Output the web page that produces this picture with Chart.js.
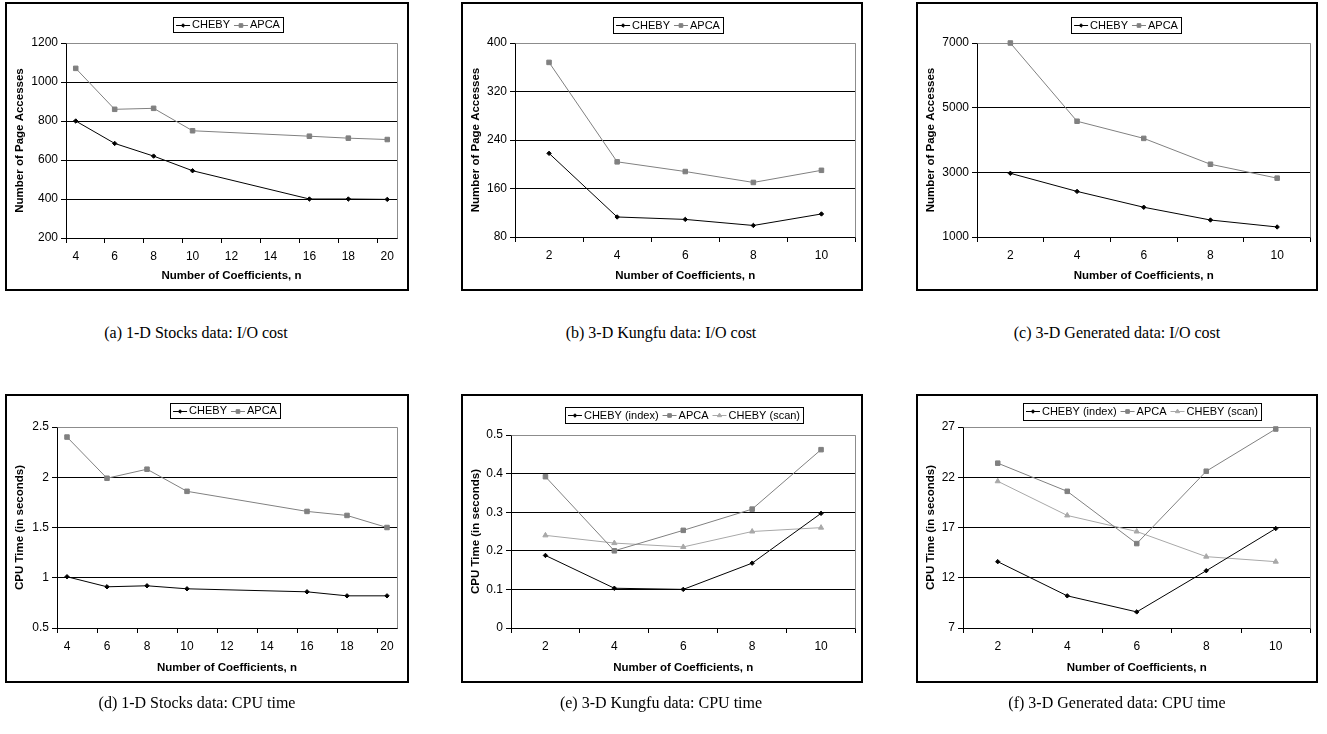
<!DOCTYPE html>
<html><head><meta charset="utf-8">
<script src="https://cdn.jsdelivr.net/npm/chart.js@4.4.1/dist/chart.umd.min.js"></script>
<style>
html,body{margin:0;padding:0;background:#fff;}
#page{position:relative;width:1327px;height:734px;overflow:hidden;background:#fff;}
.panel{position:absolute;}
.panel canvas{position:absolute;left:0;top:0;}
.frame{position:absolute;left:-1px;top:-1px;right:-1px;bottom:-1px;border:2px solid #000;pointer-events:none;}
.cap{position:absolute;width:420px;margin-left:-210px;text-align:center;font-family:"Liberation Serif","Times New Roman",serif;font-size:16px;line-height:20px;color:#000;white-space:nowrap;}
</style></head>
<body><div id="page"></div>
<script>
// ---------------- data ----------------
const nStocks = [4, 6, 8, 10, 16, 18, 20];
const n3D = [2, 4, 6, 8, 10];
const xTicksStocks = [4, 6, 8, 10, 12, 14, 16, 18, 20];
const xTicks3D = [2, 4, 6, 8, 10];

const chebyIoStocks = [800, 685, 620, 545, 400, 400, 398];
const apcaIoStocks = [1070, 860, 865, 750, 722, 712, 705];
const yTicksIoStocks = [200, 400, 600, 800, 1000, 1200];

const chebyIoKungfu = [218, 113, 109, 99, 118];
const apcaIoKungfu = [368, 204, 188, 170, 190];
const yTicksIoKungfu = [80, 160, 240, 320, 400];

const chebyIoGen = [2970, 2410, 1920, 1525, 1310];
const apcaIoGen = [7000, 4580, 4050, 3250, 2820];
const yTicksIoGen = [1000, 3000, 5000, 7000];

const chebyCpuStocks = [1.01, 0.91, 0.92, 0.89, 0.86, 0.82, 0.82];
const apcaCpuStocks = [2.40, 1.99, 2.08, 1.86, 1.66, 1.62, 1.50];
const yTicksCpuStocks = [0.5, 1, 1.5, 2, 2.5];

const chebyIndexCpuKungfu = [0.188, 0.103, 0.100, 0.168, 0.297];
const apcaCpuKungfu = [0.392, 0.200, 0.253, 0.308, 0.462];
const chebyScanCpuKungfu = [0.240, 0.220, 0.210, 0.250, 0.260];
const yTicksCpuKungfu = [0, 0.1, 0.2, 0.3, 0.4, 0.5];

const chebyIndexCpuGen = [13.6, 10.2, 8.6, 12.7, 16.9];
const apcaCpuGen = [23.4, 20.6, 15.4, 22.6, 26.8];
const chebyScanCpuGen = [21.6, 18.2, 16.6, 14.1, 13.6];
const yTicksCpuGen = [7, 12, 17, 22, 27];

const titleIo = 'Number of Page Accesses';
const titleCpu = 'CPU Time (in seconds)';
const titleX = 'Number of Coefficients, n';

// ---------------- styles ----------------
const FAMILY = "'Liberation Sans', Arial, sans-serif";
const tickFont = {family: FAMILY, size: 12, lineHeight: 1.2};
const axisTitleFont = {family: FAMILY, size: 11.5, weight: 'bold', lineHeight: 1.2};
const legendFont = "11px 'Liberation Sans', Arial, sans-serif";

const sCheby = {borderColor: '#000000', pointStyle: 'rectRot', pointRadius: 2.2};
const sApca = {borderColor: '#808080', pointStyle: 'rect', pointRadius: 3.2};
const sScan = {borderColor: '#a8a8a8', pointStyle: 'triangle', pointRadius: 3};

function series(label, xs, ys, st) {
  return {
    label,
    data: xs.map((x, i) => ({x, y: ys[i]})),
    borderColor: st.borderColor, backgroundColor: st.borderColor,
    pointBackgroundColor: st.borderColor, pointBorderColor: st.borderColor,
    pointStyle: st.pointStyle, pointRadius: st.pointRadius, pointHoverRadius: st.pointRadius,
    pointBorderWidth: 1, borderWidth: 1, tension: 0, clip: false
  };
}

function drawMarker(ctx, style, r, x, y) {
  ctx.beginPath();
  if (style === 'rect') {
    const s = r * Math.SQRT1_2;
    ctx.rect(x - s, y - s, 2 * s, 2 * s);
  } else if (style === 'rectRot') {
    ctx.moveTo(x, y - r); ctx.lineTo(x + r, y); ctx.lineTo(x, y + r); ctx.lineTo(x - r, y); ctx.closePath();
  } else {
    const w = r * Math.sqrt(3) / 2;
    ctx.moveTo(x, y - r); ctx.lineTo(x + w, y + r / 2); ctx.lineTo(x - w, y + r / 2); ctx.closePath();
  }
  ctx.fill(); ctx.stroke();
}

const boxedLegend = {
  id: 'boxedLegend',
  afterDraw(chart, args, o) {
    const ctx = chart.ctx;
    ctx.save();
    ctx.font = legendFont;
    const sw = 14, gapT = 2, gapI = 4, padX = 3, h = o.h;
    const items = chart.data.datasets.map(ds => ({ds, tw: ctx.measureText(ds.label).width}));
    const total = padX * 2 + items.reduce((s, it) => s + sw + gapT + it.tw, 0) + gapI * (items.length - 1);
    const x0 = o.cx - total / 2;
    const yc = Math.round(o.cy) + 0.5;
    ctx.strokeStyle = '#000'; ctx.lineWidth = 1;
    ctx.strokeRect(Math.round(x0) + 0.5, Math.round(o.cy - h / 2) + 0.5, Math.round(total), Math.round(h));
    let cx = x0 + padX;
    items.forEach(it => {
      const ds = it.ds;
      ctx.strokeStyle = ds.borderColor; ctx.fillStyle = ds.borderColor; ctx.lineWidth = 1;
      ctx.beginPath(); ctx.moveTo(cx, yc); ctx.lineTo(cx + sw, yc); ctx.stroke();
      drawMarker(ctx, ds.pointStyle, ds.pointRadius * 0.8, cx + sw / 2, yc);
      cx += sw + gapT;
      ctx.fillStyle = '#000'; ctx.textBaseline = 'middle'; ctx.textAlign = 'left';
      ctx.fillText(ds.label, cx, o.cy + 0.5);
      cx += it.tw + gapI;
    });
    ctx.restore();
  }
};

const plotFrame = {
  id: 'plotFrame',
  beforeDatasetsDraw(chart) {
    const {ctx, chartArea: a} = chart;
    const al = v => Math.round(v - 0.5) + 0.5;
    ctx.save();
    ctx.strokeStyle = '#8c8c8c'; ctx.lineWidth = 1;
    ctx.beginPath();
    ctx.moveTo(al(a.left), al(a.top)); ctx.lineTo(al(a.right), al(a.top)); ctx.lineTo(al(a.right), al(a.bottom));
    ctx.stroke();
    ctx.restore();
  }
};

// ---------------- panels (layout) ----------------
const panels = [
  {box: [6, 3, 402, 287], plot: {left: 60, top: 40, right: 11, bottom: 52}, legend: {cx: 222, cy: 21.5, h: 15},
   x: {min: 3.5, catW: 1, nCats: 17, markEvery: 2, labels: xTicksStocks}, yTicks: yTicksIoStocks, yTitle: titleIo,
   datasets: [series('CHEBY', nStocks, chebyIoStocks, sCheby), series('APCA', nStocks, apcaIoStocks, sApca)],
   caption: '(a) 1-D Stocks data: I/O cost', capX: 196, capY: 333},
  {box: [462, 3, 400, 287], plot: {left: 53, top: 40, right: 2, bottom: 53}, legend: {cx: 206, cy: 22, h: 16},
   x: {min: 1, catW: 2, nCats: 5, markEvery: 1, labels: xTicks3D}, yTicks: yTicksIoKungfu, yTitle: titleIo,
   datasets: [series('CHEBY', n3D, chebyIoKungfu, sCheby), series('APCA', n3D, apcaIoKungfu, sApca)],
   caption: '(b) 3-D Kungfu data: I/O cost', capX: 661, capY: 333},
  {box: [917, 3, 400, 287], plot: {left: 60, top: 40, right: 2, bottom: 53}, legend: {cx: 209, cy: 22, h: 16},
   x: {min: 1, catW: 2, nCats: 5, markEvery: 1, labels: xTicks3D}, yTicks: yTicksIoGen, yTitle: titleIo,
   datasets: [series('CHEBY', n3D, chebyIoGen, sCheby), series('APCA', n3D, apcaIoGen, sApca)],
   caption: '(c) 3-D Generated data: I/O cost', capX: 1117, capY: 333},
  {box: [6, 395, 402, 287], plot: {left: 51, top: 32, right: 11, bottom: 54}, legend: {cx: 219, cy: 15.5, h: 15},
   x: {min: 3.5, catW: 1, nCats: 17, markEvery: 2, labels: xTicksStocks}, yTicks: yTicksCpuStocks, yTitle: titleCpu,
   datasets: [series('CHEBY', nStocks, chebyCpuStocks, sCheby), series('APCA', nStocks, apcaCpuStocks, sApca)],
   caption: '(d) 1-D Stocks data: CPU time', capX: 197, capY: 703},
  {box: [462, 395, 400, 287], plot: {left: 49, top: 40, right: 2, bottom: 54}, legend: {cx: 222, cy: 20, h: 16},
   x: {min: 1, catW: 2, nCats: 5, markEvery: 1, labels: xTicks3D}, yTicks: yTicksCpuKungfu, yTitle: titleCpu,
   datasets: [series('CHEBY (index)', n3D, chebyIndexCpuKungfu, sCheby), series('APCA', n3D, apcaCpuKungfu, sApca),
              series('CHEBY (scan)', n3D, chebyScanCpuKungfu, sScan)],
   caption: '(e) 3-D Kungfu data: CPU time', capX: 661, capY: 703},
  {box: [917, 395, 400, 287], plot: {left: 46, top: 32, right: 2, bottom: 54}, legend: {cx: 225, cy: 16, h: 17},
   x: {min: 1, catW: 2, nCats: 5, markEvery: 1, labels: xTicks3D}, yTicks: yTicksCpuGen, yTitle: titleCpu,
   datasets: [series('CHEBY (index)', n3D, chebyIndexCpuGen, sCheby), series('APCA', n3D, apcaCpuGen, sApca),
              series('CHEBY (scan)', n3D, chebyScanCpuGen, sScan)],
   caption: '(f) 3-D Generated data: CPU time', capX: 1117, capY: 703}
];

function xAxis(p) {
  const lab = new Set(p.x.labels);
  const marks = [];
  for (let i = 0; i <= p.x.nCats; i++) if (i % p.x.markEvery === 0) marks.push(+(p.x.min + i * p.x.catW).toFixed(4));
  const all = [...new Set([...marks, ...p.x.labels])].sort((a, b) => a - b);
  return {
    type: 'linear', min: p.x.min, max: p.x.min + p.x.nCats * p.x.catW,
    afterBuildTicks: s => { s.ticks = all.map(v => ({value: v})); },
    afterFit: s => { s.height = p.plot.bottom; },
    ticks: {autoSkip: false, maxRotation: 0, minRotation: 0, padding: 6.5, font: tickFont, color: '#000',
            callback: v => lab.has(v) ? String(v) : ''},
    grid: {drawOnChartArea: false, drawTicks: true, tickLength: 5, tickWidth: 1,
           tickColor: c => (c.tick && lab.has(c.tick.value)) ? 'rgba(0,0,0,0)' : '#000'},
    border: {display: true, color: '#000', width: 1},
    title: {display: true, text: titleX, font: axisTitleFont, color: '#000', padding: {top: 0, bottom: 7.5}}
  };
}

function yAxis(p) {
  const t = p.yTicks, last = t.length - 1;
  return {
    type: 'linear', min: t[0], max: t[last],
    afterBuildTicks: s => { s.ticks = t.map(v => ({value: v})); },
    afterFit: s => { s.width = p.plot.left; },
    ticks: {padding: 3, font: tickFont, color: '#000', callback: v => String(v)},
    grid: {color: c => c.index === last ? '#8c8c8c' : '#000', lineWidth: 1, drawTicks: true, tickLength: 5, tickColor: '#000'},
    border: {display: true, color: '#000', width: 1},
    title: {display: true, text: p.yTitle, font: axisTitleFont, color: '#000', padding: {top: 7, bottom: 0}}
  };
}

const page = document.getElementById('page');
panels.forEach(p => {
  const [L, T, W, H] = p.box;
  const div = document.createElement('div');
  div.className = 'panel';
  div.style.cssText = `left:${L}px;top:${T}px;width:${W}px;height:${H}px;`;
  const cv = document.createElement('canvas');
  cv.width = W; cv.height = H; cv.style.width = W + 'px'; cv.style.height = H + 'px';
  div.appendChild(cv);
  const fr = document.createElement('div'); fr.className = 'frame'; div.appendChild(fr);
  page.appendChild(div);
  const cap = document.createElement('div');
  cap.className = 'cap'; cap.textContent = p.caption;
  cap.style.left = p.capX + 'px'; cap.style.top = (p.capY - 10) + 'px';
  page.appendChild(cap);

  new Chart(cv, {
    type: 'line',
    data: {datasets: p.datasets},
    options: {
      responsive: false, animation: false, events: [],
      layout: {padding: {left: 0, top: p.plot.top, right: p.plot.right, bottom: 0}},
      plugins: {legend: {display: false}, tooltip: {enabled: false}, boxedLegend: p.legend},
      scales: {x: xAxis(p), y: yAxis(p)}
    },
    plugins: [plotFrame, boxedLegend]
  });
});
</script>
</body></html>
